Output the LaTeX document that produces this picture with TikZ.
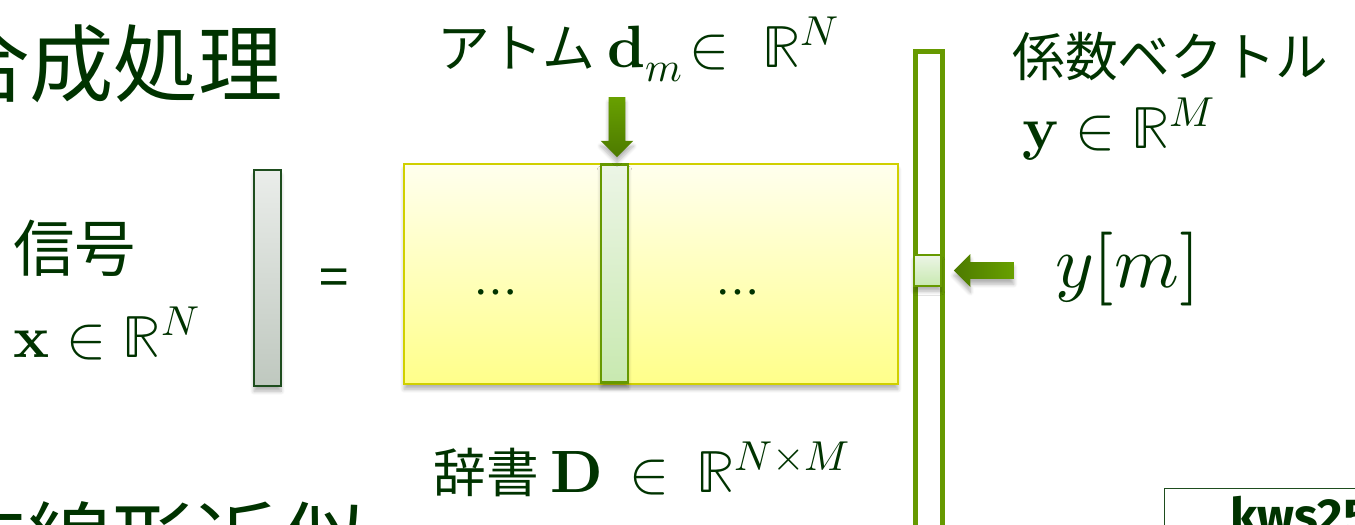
\documentclass[tikz,border=0pt]{standalone}
\usepackage{amsmath}
\usepackage{unicode-math}
\setmainfont{Noto Sans CJK JP}
\setmathfont{Latin Modern Math}
\newfontfamily\kwsfont{Fira Sans}
\usetikzlibrary{shapes.arrows,shadows.blur}
\definecolor{txtgreen}{RGB}{0,51,0}
\definecolor{sigborder}{RGB}{30,77,30}
\definecolor{sigtop}{RGB}{234,237,234}
\definecolor{sigbot}{RGB}{191,200,191}
\definecolor{dicttop}{RGB}{255,255,238}
\definecolor{dictbot}{RGB}{255,255,138}
\definecolor{dictborder}{RGB}{208,208,0}
\definecolor{leafgreen}{RGB}{102,153,0}
\definecolor{atomtop}{RGB}{236,245,230}
\definecolor{atombot}{RGB}{200,233,176}
\definecolor{arrowdark}{RGB}{77,122,0}
\definecolor{arrowlight}{RGB}{104,160,0}
\newcommand\eqtxt[1]{{\fontsize{34}{40}\selectfont$#1$}}
\tikzset{
    lbl/.style={text=txtgreen, inner sep=0pt, font=\fontsize{30}{36}\selectfont},
    siglbl/.style={text=txtgreen, inner sep=0pt, font=\fontsize{35}{42}\selectfont},
    bigtitle/.style={text=txtgreen, inner sep=0pt, font=\fontsize{48}{56}\selectfont},
    softshadow/.style={blur shadow={shadow xshift=0pt, shadow yshift=-3pt, shadow blur steps=6, shadow opacity=30}},
    vecbox/.style={draw=sigborder, line width=1.2pt, top color=sigtop, bottom color=sigbot, inner sep=0pt, softshadow},
    dictbox/.style={draw=dictborder, line width=0.8pt, top color=dicttop, bottom color=dictbot, inner sep=0pt, softshadow},
    atombox/.style={draw=leafgreen, line width=1.2pt, top color=atomtop, bottom color=atombot, inner sep=0pt, softshadow},
    coefbox/.style={draw=leafgreen, line width=2.8pt, fill=white, inner sep=0pt},
    pointer/.style={single arrow, single arrow head extend=0.16cm, single arrow head indent=0pt,
        minimum height=1.2cm, inner sep=0.16cm, draw=none, softshadow}
}
\begin{document}
\begin{tikzpicture}[x=0.02cm, y=-0.02cm]
                \useasboundingbox (0, 0) rectangle (1355, 524);
                \clip (0, 0) rectangle (1355, 524);
                \node (ttl) at (283, 95) [bigtitle, anchor=base east] {合成処理};
                \node (nonlin) at (365, 572) [bigtitle, anchor=base east] {非線形近似};
                \node (signame) at (13, 271) [siglbl, anchor=base west] {信号};
                \node (sigspace) at (13, 357) [lbl, anchor=base west] {\eqtxt{\symbf{x} \in \mathbb{R}^N}};
                \node (sig) at (267.5, 278) [vecbox, minimum width=0.54cm, minimum height=4.32cm] {};
                \node (eq) at (334, 283) [lbl] {=};
                \node (dict) at (651, 274) [dictbox, minimum width=9.88cm, minimum height=4.4cm] {};
                \node (dotsl) at (496, 298) [lbl] {$\cdots$};
                \node (dotsr) at (738, 298) [lbl] {$\cdots$};
                \node (atom) at (614.5, 273.5) [atombox, minimum width=0.54cm, minimum height=4.36cm] {};
                \node (atomname) at (437, 67) [lbl, anchor=base west] {アトム \eqtxt{\symbf{d}_m\!\in\; \mathbb{R}^N}};
                \node (down) at (617, 123) [pointer, shape border rotate=270, minimum width=0.64cm, top color=arrowlight, bottom color=arrowdark] {};
                \node (dictname) at (433, 492) [lbl, anchor=base west] {辞書 \eqtxt{\symbf{D} \,\in\, \mathbb{R}^{N\times M}}};
                \node (coef) at (929, 315.75) [coefbox, minimum width=0.54cm, minimum height=10.57cm] {};
                \node (ysel) at (927.5, 270.5) [atombox, minimum width=0.54cm, minimum height=0.62cm] {};
                \node (left) at (988, 270.5) [pointer, shape border rotate=180, minimum width=0.66cm, left color=arrowdark, right color=arrowlight] {};
                \node (ym) at (1055, 287) [text=txtgreen, inner sep=0pt, anchor=base west, font=\fontsize{42}{50}\selectfont] {$y[m]$};
                \node (coefname) at (1012, 76) [lbl, anchor=base west] {係数ベクトル};
                \node (coefspace) at (1022, 148) [lbl, anchor=base west] {\eqtxt{\symbf{y} \in \mathbb{R}^M}};
                \node (kws) at (1164, 488) [draw=sigborder, line width=0.6pt, anchor=north west, text=txtgreen,
                    inner xsep=1.32cm, inner ysep=0.16cm, minimum width=5cm, align=left,
                    font=\kwsfont\bfseries\fontsize{28}{32}\selectfont] {kws25};
            \end{tikzpicture}
\end{document}
